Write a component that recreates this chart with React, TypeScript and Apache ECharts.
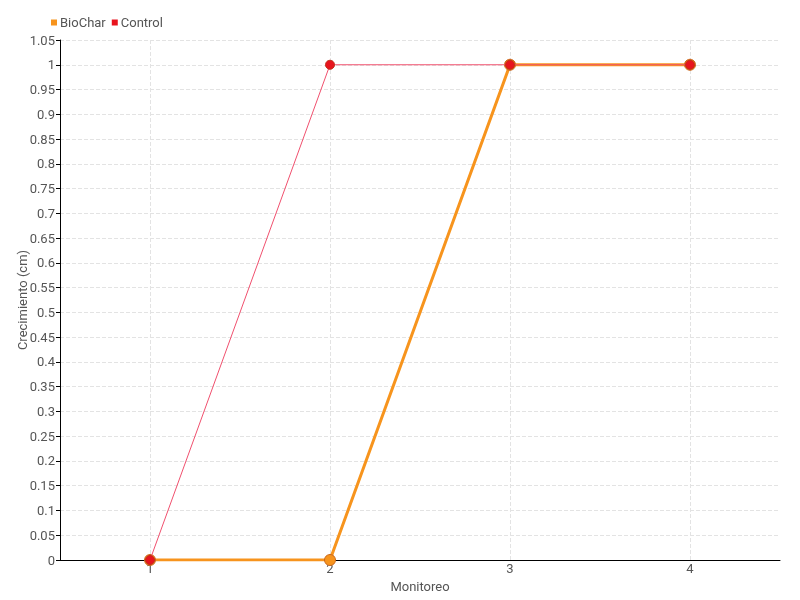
import React, { useEffect, useRef } from "react";
import * as echarts from "echarts";

const categories = ["1", "2", "3", "4"];
const bioChar = [0, 0, 1, 1];
const control = [0, 1, 1, 1];

const FONT = "Roboto, 'Noto Sans', sans-serif";

export default function App() {
  const ref = useRef<HTMLDivElement>(null);
  useEffect(() => {
    if (!ref.current) return;
    const chart = echarts.init(ref.current, undefined, { renderer: "svg" });
    chart.setOption({
      animation: false,
      textStyle: { fontFamily: FONT },
      legend: {
        left: 46,
        top: 11,
        itemWidth: 6,
        itemHeight: 6,
        itemGap: 6,
        icon: "rect",
        itemStyle: { borderWidth: 0 },
        textStyle: { fontFamily: FONT, fontSize: 13, color: "#555", padding: [0, 0, 0, -2] },
        data: ["BioChar", "Control"],
      },
      grid: { left: 60, right: 20, top: 40, bottom: 40, containLabel: false },
      xAxis: {
        type: "category",
        data: categories,
        boundaryGap: true,
        name: "Monitoreo",
        nameLocation: "middle",
        nameGap: 14,
        nameTextStyle: { fontFamily: FONT, fontSize: 13, color: "#555" },
        axisLine: { lineStyle: { color: "#000" } },
        axisTick: { alignWithLabel: true, length: 4, lineStyle: { color: "#000" } },
        axisLabel: { fontFamily: FONT, fontSize: 13, color: "#555", margin: 2 },
        splitLine: { show: true, alignWithLabel: true, lineStyle: { color: "#e3e3e3", type: "dashed" } },
      },
      yAxis: {
        type: "value",
        min: 0,
        max: 1.05,
        interval: 0.05,
        name: "Crecimiento (cm)",
        nameLocation: "middle",
        nameGap: 31,
        nameMoveOverlap: false,
        nameTextStyle: { fontFamily: FONT, fontSize: 13, color: "#555" },
        axisLine: { show: true, lineStyle: { color: "#000" } },
        axisTick: { show: true, length: 4, lineStyle: { color: "#000" } },
        axisLabel: {
          fontFamily: FONT,
          fontSize: 13,
          color: "#555",
          margin: 5,
          formatter: (v: number) => String(parseFloat(v.toFixed(2))),
        },
        splitLine: { show: true, lineStyle: { color: "#e3e3e3", type: "dashed" } },
      },
      series: [
        {
          name: "BioChar",
          type: "line",
          data: bioChar,
          z: 2,
          color: "#f7941d",
          lineStyle: { width: 3, color: "#f7941d" },
          symbol: "circle",
          symbolSize: 11,
          itemStyle: { color: "#f7941d", borderColor: "#c8651a", borderWidth: 1 },
        },
        {
          name: "Control",
          type: "line",
          data: control,
          z: 3,
          color: "#e8141e",
          lineStyle: { width: 1, color: "#f0506e" },
          symbol: "circle",
          symbolSize: 9,
          itemStyle: { color: "#e8141e", borderColor: "#c0301a", borderWidth: 1 },
        },
      ],
    });
    return () => chart.dispose();
  }, []);
  return <div ref={ref} style={{ position: "fixed", left: 0, top: 0, width: 800, height: 600 }} />;
}
